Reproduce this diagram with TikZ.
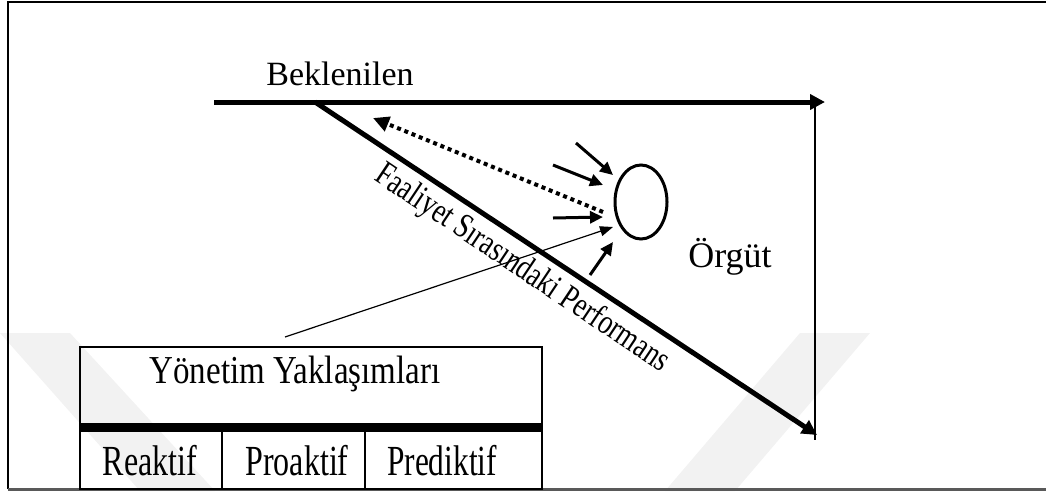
\documentclass[tikz,border=0pt]{standalone}
\usepackage{fontspec}
\usepackage{graphicx}
\setmainfont{Liberation Serif}
\usetikzlibrary{arrows.meta,shapes.geometric}
\begin{document}
\begin{tikzpicture}[x=1pt,y=-1pt,
  bigarrow/.style={line width=5pt,-{Triangle[length=15pt,width=15pt]}},
  smallarrow/.style={line width=3pt,-{Triangle[length=13pt,width=12pt]}},
  thinarrow/.style={line width=1.2pt,-{Triangle[length=13pt,width=10pt]}},
  dotarrow/.style={line width=4pt,dash pattern=on 4pt off 3.8pt,-{Triangle[length=16pt,width=15pt]}},
  cell/.style={inner sep=0pt,font=\fontsize{33}{33}\selectfont},
  shade/.style={fill=black!5,draw=none},
]
\useasboundingbox (0,0) rectangle (1046,491);

% faint background marks
\fill[shade] (0,333) -- (70,333) -- (215,491) -- (140,491) -- cycle;
\fill[shade] (800,333) -- (870,333) -- (735,491) -- (665,491) -- cycle;

% frame
\draw[line width=2.5pt] (8,489) -- (8,2) -- (1046,2);
\draw[line width=2.5pt,black!65] (8,489.5) -- (1046,489.5);

% time axes
\coordinate (hstart) at (214,102);
\coordinate (hend) at (825,102);
\coordinate (dstart) at (315,102);
\coordinate (dend) at (817,435);
\coordinate (vtop) at (815,103);
\coordinate (vbot) at (815,440);
\draw[bigarrow] (hstart) -- (hend);
\draw[bigarrow] (dstart) -- (dend);
\draw[line width=1.3pt] (vtop) -- (vbot);

\node[inner sep=0pt,font=\fontsize{34}{34}\selectfont] (bek) at (340,74) {Beklenilen};
\node[inner sep=0pt,font=\fontsize{36}{36}\selectfont] (org-lbl) at (730,257) {Örgüt};
\node[inner sep=0pt,font=\fontsize{27}{27}\selectfont,rotate=-33.8] (perf) at (522,269)
  {\scalebox{1}[1.3]{Faaliyet Sırasındaki Performans}};

% organisation
\node[draw,ellipse,line width=3pt,minimum width=52,minimum height=74,inner sep=0pt] (org) at (641,202) {};

\coordinate (a1s) at (576,143); \coordinate (a1e) at (613,175);
\coordinate (a2s) at (553,165); \coordinate (a2e) at (603,185);
\coordinate (a4s) at (553,218); \coordinate (a4e) at (603,217);
\coordinate (a6s) at (590,275); \coordinate (a6e) at (613,242);
\coordinate (ds) at (603,212); \coordinate (de) at (373,118);
\coordinate (ts) at (285,337); \coordinate (te) at (613,227);
\draw[smallarrow] (a1s) -- (a1e);
\draw[smallarrow] (a2s) -- (a2e);
\draw[smallarrow] (a4s) -- (a4e);
\draw[smallarrow] (a6s) -- (a6e);
\draw[dotarrow] (ds) -- (de);
\draw[thinarrow] (ts) -- (te);

% management approaches table
\draw[line width=2pt] (80,347) rectangle (542,489);
\fill (80,423) rectangle (542,432);
\draw[line width=2pt] (222,432) -- (222,489);
\draw[line width=2pt] (365,432) -- (365,489);
\node[cell] (yon) at (295,374) {\scalebox{1}[1.2]{Yönetim Yaklaşımları}};
\node[cell] (rea) at (150,461) {\scalebox{0.97}[1.3]{Reaktif}};
\node[cell] (pro) at (297,461) {\scalebox{0.97}[1.3]{Proaktif}};
\node[cell] (pre) at (442,461) {\scalebox{0.95}[1.3]{Prediktif}};
\end{tikzpicture}
\end{document}
